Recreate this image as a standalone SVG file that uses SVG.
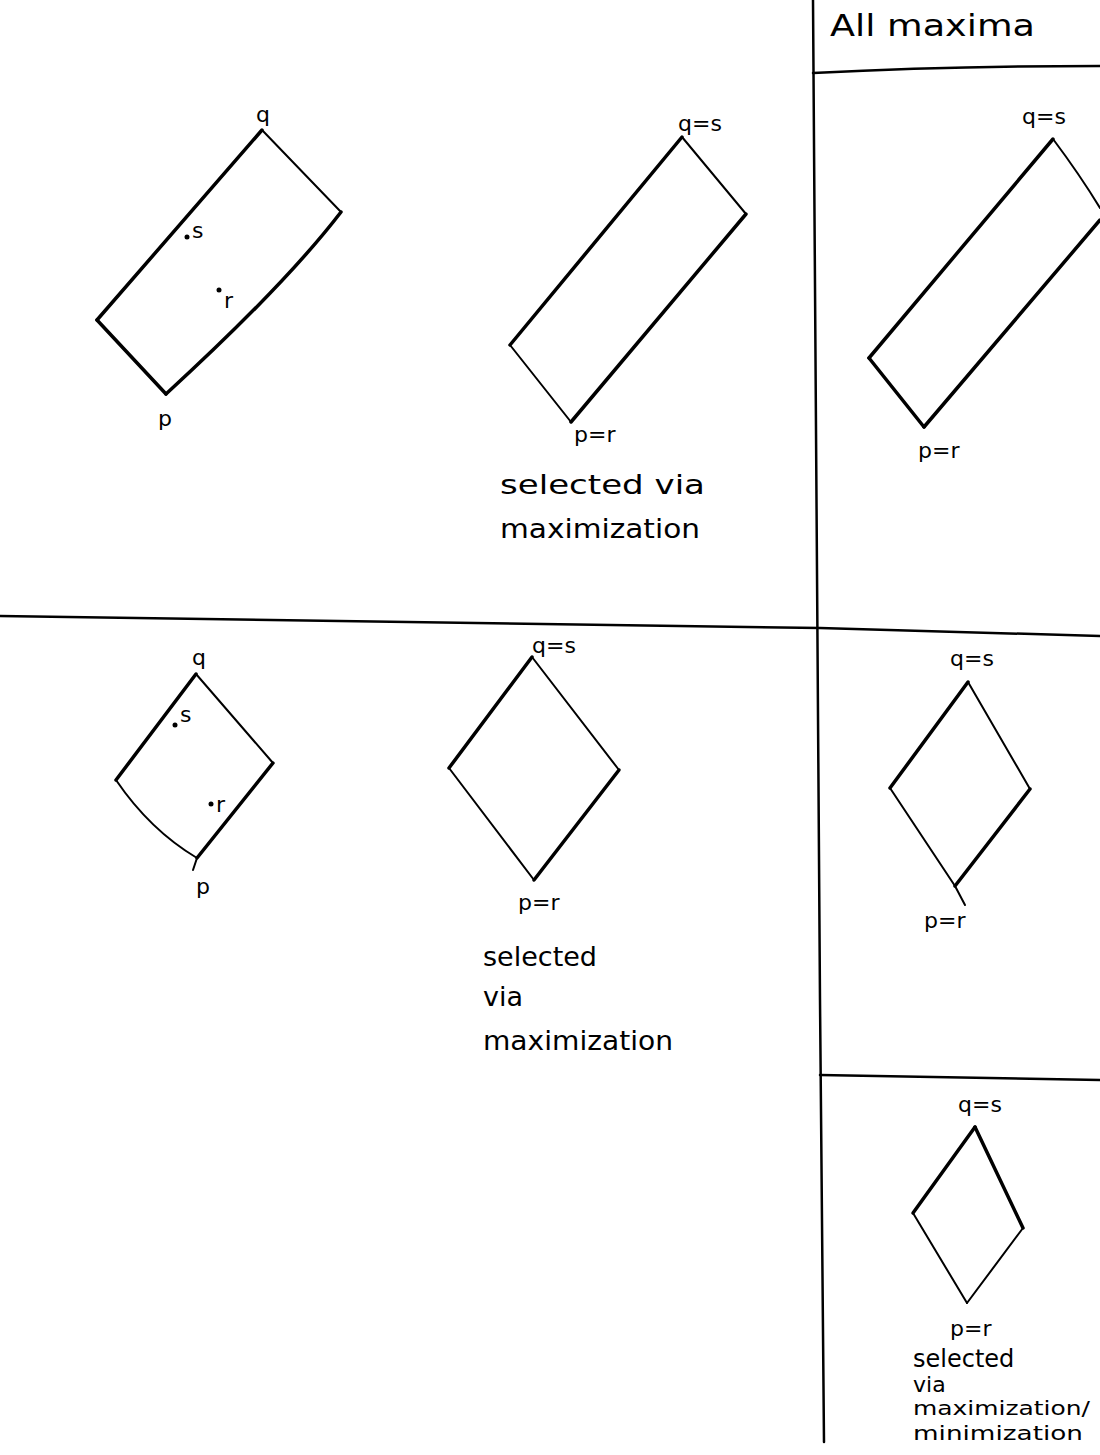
<svg xmlns="http://www.w3.org/2000/svg" width="1100" height="1455" viewBox="0 0 1100 1455">
<style>
.bg{fill:#ffffff}
.e{fill:none;stroke:#000;stroke-width:2;stroke-linecap:round;stroke-linejoin:round}
.t{fill:none;stroke:#000;stroke-width:3.5;stroke-linecap:round;stroke-linejoin:round}
.sep{fill:none;stroke:#000;stroke-width:2.5;stroke-linecap:round}
.lbl{font-family:"DejaVu Sans",sans-serif;font-size:22px;fill:#000}
.cap{font-family:"DejaVu Sans",sans-serif;font-size:27px;fill:#000}
.cap2{font-family:"DejaVu Sans",sans-serif;font-size:22px;fill:#000}
.dot{fill:#000}
</style>
<rect class="bg" x="0" y="0" width="1100" height="1455"/>

<g id="separators">
<path class="sep" d="M813,0 Q818,600 820,1000 Q822,1300 824,1442"/>
<path class="sep" d="M813,73 Q950,66 1100,66"/>
<path class="sep" d="M0,616 Q500,622 820,628 Q960,632 1100,636"/>
<path class="sep" d="M820,1075 Q960,1077 1100,1080"/>
</g>

<g id="header">
<text class="cap" x="830" y="36" style="font-size:30px" textLength="205" lengthAdjust="spacingAndGlyphs">All  maxima</text>
</g>

<g id="panel1">
<path class="t" d="M262,130 L97,320"/>
<path class="e" d="M262,130 L341,212"/>
<path class="t" d="M341,212 Q285,285 166,394"/>
<path class="t" d="M97,320 L166,394"/>
<text class="lbl" x="256" y="122">q</text>
<circle class="dot" cx="187" cy="237" r="2.5"/>
<text class="lbl" x="192" y="238">s</text>
<circle class="dot" cx="219" cy="290" r="2.5"/>
<text class="lbl" x="224" y="308">r</text>
<text class="lbl" x="158" y="426">p</text>
</g>

<g id="panel2">
<path class="t" d="M682,137 L510,345"/>
<path class="e" d="M682,137 L746,214"/>
<path class="t" d="M746,214 L571,422"/>
<path class="e" d="M510,345 L571,422"/>
<text class="lbl" x="678" y="131">q=s</text>
<text class="lbl" x="574" y="442">p=r</text>
<text class="cap" x="500" y="494" textLength="205" lengthAdjust="spacingAndGlyphs">selected  via</text>
<text class="cap" x="500" y="538" textLength="200" lengthAdjust="spacingAndGlyphs">maximization</text>
</g>

<g id="panel3">
<path class="t" d="M1053,139 L869,358"/>
<path class="e" d="M1053,139 Q1080,175 1100,208"/>
<path class="t" d="M1100,220 L924,427"/>
<path class="t" d="M869,358 L924,427"/>
<text class="lbl" x="1022" y="124">q=s</text>
<text class="lbl" x="918" y="458">p=r</text>
</g>

<g id="panel4">
<path class="t" d="M196,674 L116,780"/>
<path class="e" d="M196,674 L273,763"/>
<path class="t" d="M273,763 L197,858"/>
<path class="e" d="M116,780 Q150,830 197,858 L193,870"/>
<text class="lbl" x="192" y="665">q</text>
<circle class="dot" cx="175" cy="725" r="2.5"/>
<text class="lbl" x="180" y="722">s</text>
<circle class="dot" cx="211" cy="804" r="2.5"/>
<text class="lbl" x="216" y="812">r</text>
<text class="lbl" x="196" y="894">p</text>
</g>

<g id="panel5">
<path class="t" d="M532,657 L449,768"/>
<path class="e" d="M532,657 L619,770"/>
<path class="t" d="M619,770 L534,880"/>
<path class="e" d="M449,768 L534,880"/>
<text class="lbl" x="532" y="653">q=s</text>
<text class="lbl" x="518" y="910">p=r</text>
<text class="cap" x="483" y="966">selected</text>
<text class="cap" x="483" y="1006">via</text>
<text class="cap" x="483" y="1050" textLength="190" lengthAdjust="spacingAndGlyphs">maximization</text>
</g>

<g id="panel6">
<path class="t" d="M968,682 L890,788"/>
<path class="e" d="M968,682 L1030,789"/>
<path class="t" d="M1030,789 L955,886"/>
<path class="e" d="M890,788 L955,886 L965,905"/>
<text class="lbl" x="950" y="666">q=s</text>
<text class="lbl" x="924" y="928">p=r</text>
</g>

<g id="panel7">
<path class="t" d="M975,1127 L913,1213"/>
<path class="t" d="M975,1127 L1023,1228"/>
<path class="e" d="M1023,1228 L967,1303"/>
<path class="e" d="M913,1213 L967,1303"/>
<text class="lbl" x="958" y="1112">q=s</text>
<text class="lbl" x="950" y="1336">p=r</text>
<text class="cap2" x="913" y="1367" style="font-size:24px">selected</text>
<text class="cap2" x="913" y="1392">via</text>
<text class="cap2" x="913" y="1415" style="font-size:19px" textLength="177" lengthAdjust="spacingAndGlyphs">maximization/</text>
<text class="cap2" x="913" y="1440" style="font-size:19px" textLength="170" lengthAdjust="spacingAndGlyphs">minimization</text>
</g>
</svg>
